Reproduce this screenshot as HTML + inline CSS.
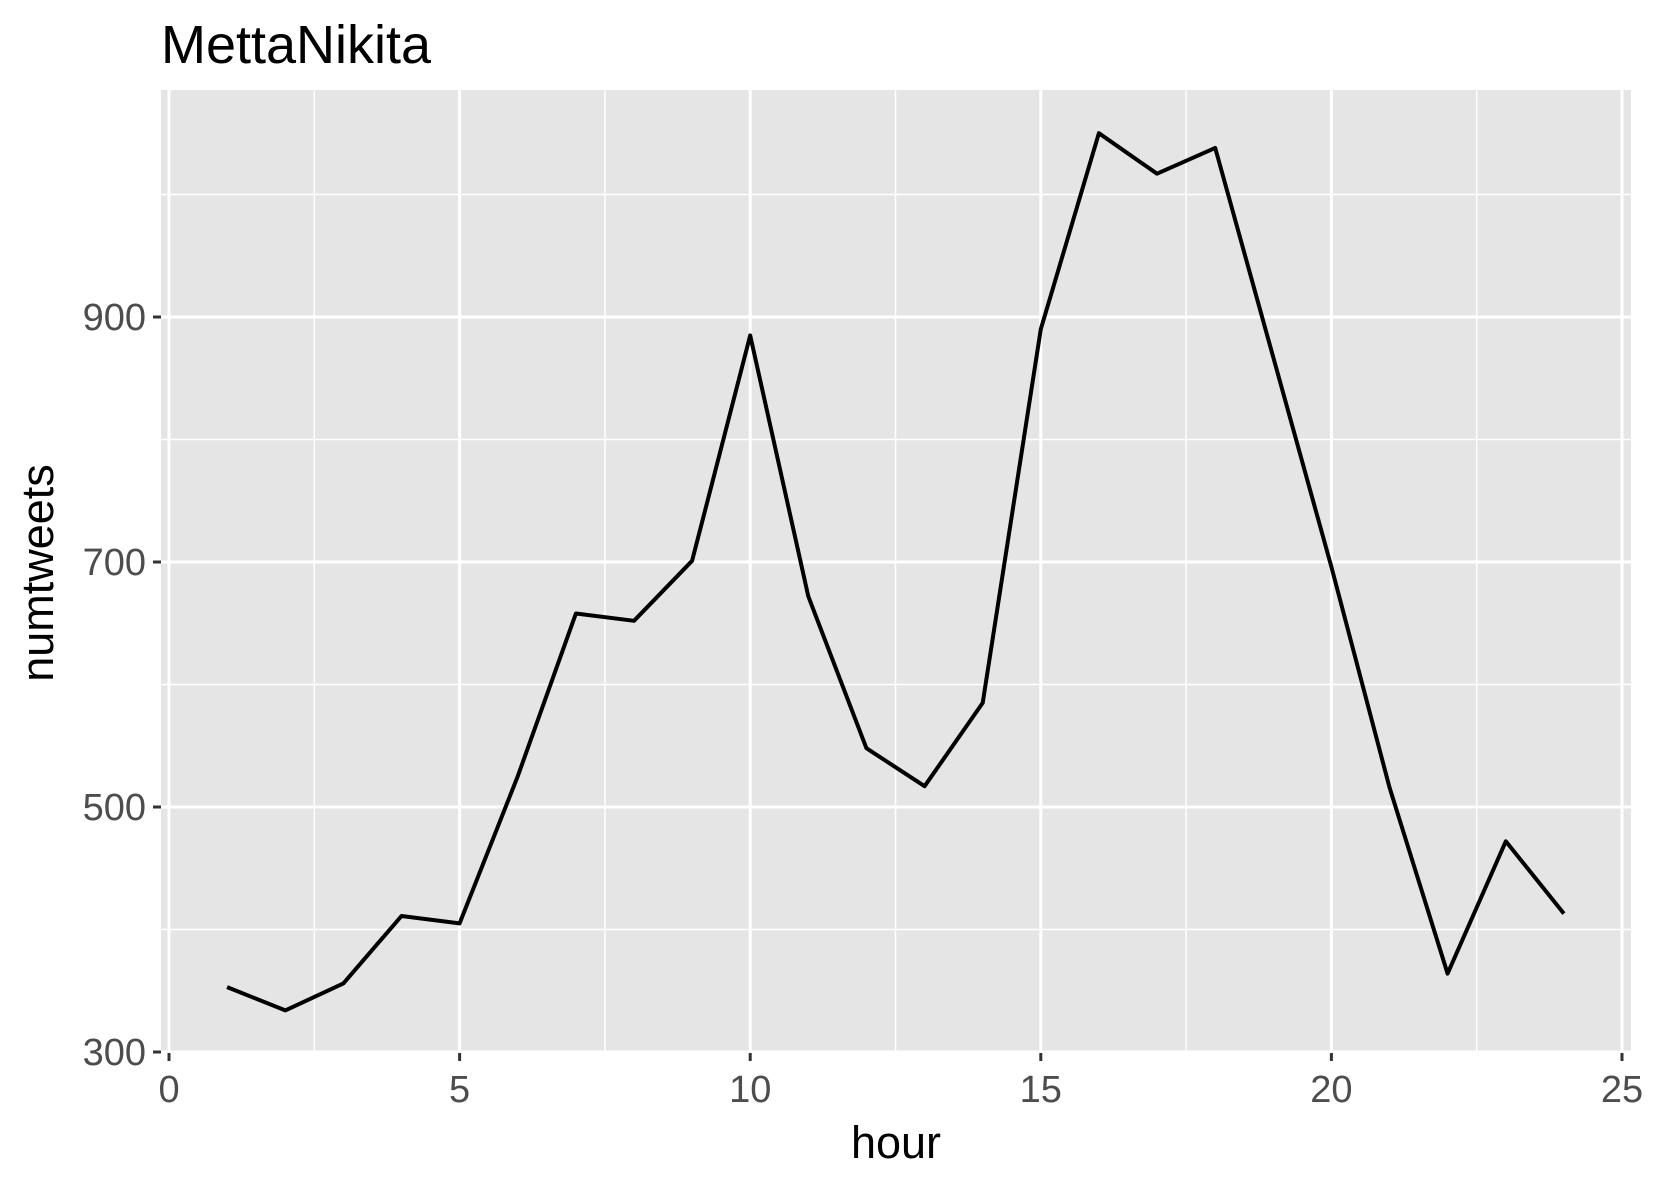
<!DOCTYPE html>
<html><head><meta charset="utf-8"><style>
body{margin:0;background:#fff;}
text{font-family:"Liberation Sans",Arial,sans-serif;}
</style></head><body>
<svg id="chart" width="1653" height="1181" viewBox="0 0 1653 1181" xmlns="http://www.w3.org/2000/svg">
<rect width="1653" height="1181" fill="#fff"/>
<text x="161" y="63" font-size="54" fill="#000">MettaNikita</text>
<g id="panel"></g>
<text x="896" y="1158" font-size="45" text-anchor="middle" fill="#000">hour</text>
<text transform="translate(53,573) rotate(-90)" font-size="45" text-anchor="middle" fill="#000">numtweets</text>
</svg>
<script>
const hours=[1,2,3,4,5,6,7,8,9,10,11,12,13,14,15,16,17,18,19,20,21,22,23,24];
const numtweets=[353,334,356,411,405,525,658,652,701,885,672,548,517,585,890,1050,1017,1038,867,696,516,364,472,413];
const xTicks=[0,5,10,15,20,25];
const yTicks=[300,500,700,900];
const L=161,R=1631,T=90,B=1053;
const xmin=-0.138,xmax=25.155,ymin=299.2,ymax=1085.3;
const X=v=>L+(v-xmin)/(xmax-xmin)*(R-L);
const Y=v=>B-(v-ymin)/(ymax-ymin)*(B-T);
const NS="http://www.w3.org/2000/svg";
const svg=document.getElementById('chart');
const g=document.getElementById('panel');
function mk(t,a,p){const e=document.createElementNS(NS,t);for(const k in a)e.setAttribute(k,a[k]);(p||g).appendChild(e);return e;}
const bg=mk('rect',{x:L,y:T,width:R-L,height:B-T,fill:'#e5e5e5'});


for(let i=0;i<xTicks.length-1;i++){const m=(xTicks[i]+xTicks[i+1])/2;const l=mk('line',{x1:X(m),x2:X(m),y1:T,y2:B,stroke:'#fff','stroke-width':1.5});}
for(let i=0;i<yTicks.length;i++){const m=yTicks[i]+100;if(Y(m)>T){const l=mk('line',{x1:L,x2:R,y1:Y(m),y2:Y(m),stroke:'#fff','stroke-width':1.5});}}
xTicks.forEach(v=>{const l=mk('line',{x1:X(v),x2:X(v),y1:T,y2:B,stroke:'#fff','stroke-width':3});
const tk=mk('line',{x1:X(v),x2:X(v),y1:B,y2:B+8,stroke:'#333','stroke-width':3},svg);
const t=mk('text',{x:X(v),y:B+49,'font-size':38,'text-anchor':'middle',fill:'#4d4d4d'},svg);t.textContent=v;});
yTicks.forEach(v=>{const l=mk('line',{x1:L,x2:R,y1:Y(v),y2:Y(v),stroke:'#fff','stroke-width':3});
const tk=mk('line',{x1:L-8,x2:L,y1:Y(v),y2:Y(v),stroke:'#333','stroke-width':3},svg);
const t=mk('text',{x:L-15,y:Y(v)+13,'font-size':38,'text-anchor':'end',fill:'#4d4d4d'},svg);t.textContent=v;});
const d=hours.map((h,i)=>(i?'L':'M')+X(h).toFixed(1)+','+Y(numtweets[i]).toFixed(1)).join(' ');
const p=mk('path',{d:d,fill:'none',stroke:'#000','stroke-width':4,'stroke-linejoin':'round'});


</script>
</body></html>
